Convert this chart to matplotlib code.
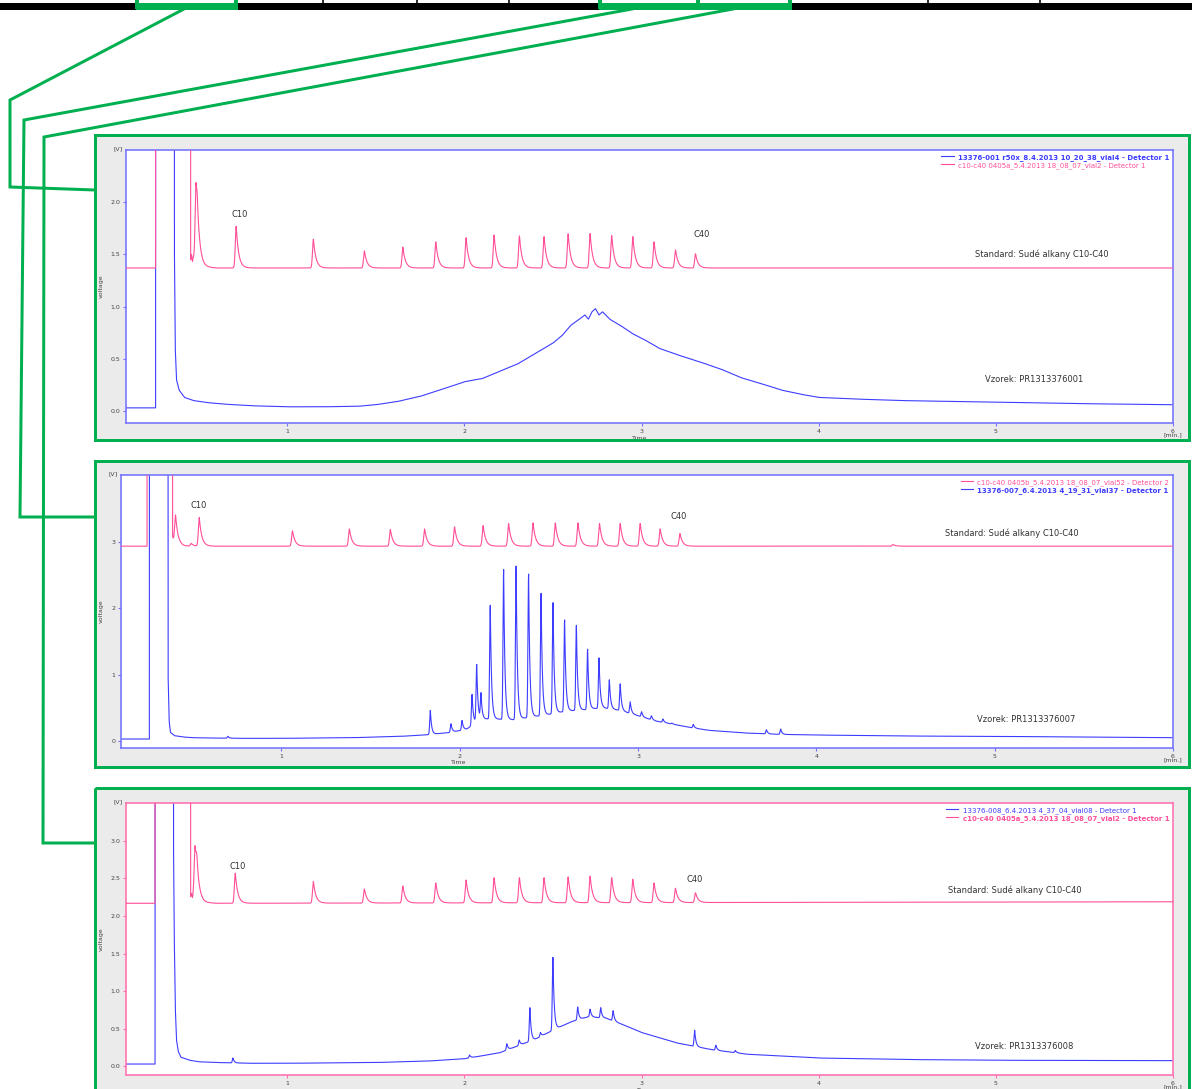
import numpy as np
import matplotlib
matplotlib.use('Agg')
import matplotlib.pyplot as plt
from matplotlib.patches import Rectangle

# ---------------- data ----------------
x_ticks = [1, 2, 3, 4, 5, 6]

# Panel 1 -----------------------------------------------------
p1_legend = ["13376-001 r50x_8.4.2013 10_20_38_vial4 - Detector 1",
             "c10-c40 0405a_5.4.2013 18_08_07_vial2 - Detector 1"]
p1_yticks = [0.0, 0.5, 1.0, 1.5, 2.0]
p1_ylabels = ["0.0", "0.5", "1.0", "1.5", "2.0"]
p1_blue_base_t = [0.0, 0.257, 0.259, 0.360, 0.363, 0.368, 0.375, 0.39, 0.42, 0.47, 0.55, 0.65, 0.8, 1.0, 1.2,
                  1.4, 1.5, 1.62, 1.75, 1.86, 2.0, 2.1, 2.2, 2.3, 2.43, 2.5, 2.55, 2.6, 2.65, 2.68, 2.70,
                  2.72, 2.74, 2.76, 2.78, 2.82, 2.88, 2.95, 3.02, 3.1, 3.2, 3.33, 3.45, 3.56, 3.68, 3.79,
                  3.9, 4.0, 4.2, 4.46, 4.8, 5.0, 5.5, 6.0]
p1_blue_base_v = [0.03, 0.03, 30, 30, 1.6, 0.6, 0.30, 0.2, 0.13, 0.1, 0.08, 0.065, 0.05, 0.04, 0.04,
                  0.045, 0.06, 0.09, 0.14, 0.2, 0.28, 0.31, 0.38, 0.45, 0.58, 0.65, 0.72, 0.82, 0.88, 0.92, 0.88,
                  0.95, 0.98, 0.92, 0.95, 0.88, 0.82, 0.74, 0.68, 0.6, 0.54, 0.47, 0.40, 0.32, 0.26, 0.2,
                  0.16, 0.13, 0.115, 0.1, 0.09, 0.085, 0.07, 0.06]
p1_pink_base_t = [0.0, 0.257, 0.259, 0.452, 0.455, 0.46, 0.465, 0.47, 0.50, 0.53, 0.6, 6.0]
p1_pink_base_v = [1.37, 1.37, 30, 30, 1.45, 1.50, 1.43, 1.47, 1.40, 1.38, 1.37, 1.37]
p1_pink_peak_rt = [0.485, 0.492, 0.712, 1.148, 1.436, 1.653, 1.839, 2.010, 2.168, 2.311, 2.450, 2.586,
                   2.710, 2.832, 2.951, 3.071, 3.192, 3.305]
p1_pink_peak_apex = [2.09, 1.68, 1.77, 1.646, 1.534, 1.57, 1.62, 1.66, 1.686, 1.677, 1.67, 1.697,
                     1.70, 1.68, 1.67, 1.62, 1.544, 1.506]
p1_labels = ["C10", "C40"]
p1_label_t = [0.73, 3.34]
p1_label_v = [1.88, 1.69]
p1_std_text = "Standard: Sudé alkany C10-C40"
p1_std_pos = (4.88, 1.505)
p1_smp_text = "Vzorek: PR1313376001"
p1_smp_pos = (4.94, 0.30)

# Panel 2 -----------------------------------------------------
p2_legend = ["c10-c40 0405b_5.4.2013 18_08_07_vial52 - Detector 2",
             "13376-007_6.4.2013 4_19_31_vial37 - Detector 1"]
p2_yticks = [0, 1, 2, 3]
p2_ylabels = ["0", "1", "2", "3"]
p2_blue_base_t = [0.0, 0.259, 0.261, 0.361, 0.364, 0.37, 0.377, 0.40, 0.45, 0.5, 0.6, 0.8, 1.0, 1.4, 1.667,
                  1.8, 1.95, 2.04, 2.1, 2.15, 2.2, 2.3, 2.4, 2.5, 2.6, 2.7, 2.8, 2.9, 3.0, 3.1, 3.2, 3.3,
                  3.4, 3.6, 3.8, 4.0, 4.5, 5.0, 6.0]
p2_blue_base_v = [0.03, 0.03, 30, 30, 1.0, 0.3, 0.13, 0.08, 0.06, 0.05, 0.045, 0.04, 0.04, 0.05, 0.07,
                  0.09, 0.13, 0.18, 0.30, 0.33, 0.33, 0.32, 0.36, 0.40, 0.45, 0.47, 0.50, 0.46, 0.38, 0.30,
                  0.25, 0.20, 0.16, 0.12, 0.10, 0.09, 0.075, 0.07, 0.05]
p2_blue_peak_rt = [0.70, 1.835, 1.951, 2.013, 2.069, 2.095, 2.119, 2.171, 2.246, 2.316, 2.386, 2.456,
                   2.523, 2.588, 2.654, 2.717, 2.781, 2.839, 2.90, 2.956, 3.02, 3.075, 3.14, 3.19, 3.31,
                   3.72, 3.80]
p2_blue_peak_apex = [0.07, 0.46, 0.26, 0.31, 0.70, 1.14, 0.70, 2.04, 2.58, 2.63, 2.51, 2.22,
                     2.08, 1.82, 1.74, 1.38, 1.25, 0.92, 0.86, 0.59, 0.44, 0.38, 0.33, 0.27, 0.25,
                     0.17, 0.18]
p2_pink_base_t = [0.0, 0.246, 0.248, 0.386, 0.389, 0.395, 0.42, 0.45, 6.0]
p2_pink_base_v = [2.93, 2.93, 30, 30, 3.08, 3.02, 2.95, 2.93, 2.93]
p2_pink_peak_rt = [0.406, 0.494, 0.539, 1.062, 1.381, 1.611, 1.803, 1.971, 2.131, 2.274, 2.411, 2.536,
                   2.663, 2.784, 2.900, 3.012, 3.124, 3.235, 4.43]
p2_pink_peak_apex = [3.40, 2.97, 3.36, 3.16, 3.19, 3.18, 3.19, 3.22, 3.24, 3.27, 3.28, 3.28,
                     3.28, 3.27, 3.27, 3.27, 3.19, 3.12, 2.955]
p2_labels = ["C10", "C40"]
p2_label_t = [0.535, 3.23]
p2_label_v = [3.54, 3.38]
p2_std_text = "Standard: Sudé alkany C10-C40"
p2_std_pos = (4.72, 3.12)
p2_smp_text = "Vzorek: PR1313376007"
p2_smp_pos = (4.90, 0.33)

# Panel 3 -----------------------------------------------------
p3_legend = ["13376-008_6.4.2013 4_37_04_vial08 - Detector 1",
             "c10-c40 0405a_5.4.2013 18_08_07_vial2 - Detector 1"]
p3_yticks = [0.0, 0.5, 1.0, 1.5, 2.0, 2.5, 3.0]
p3_ylabels = ["0.0", "0.5", "1.0", "1.5", "2.0", "2.5", "3.0"]
p3_blue_base_t = [0.0, 0.254, 0.256, 0.355, 0.358, 0.362, 0.368, 0.375, 0.385, 0.40, 0.45, 0.5, 0.6, 0.8,
                  1.0, 1.5, 1.8, 2.0, 2.2, 2.4, 2.5, 2.6, 2.7, 2.8, 2.9, 3.0, 3.2, 3.4, 3.6, 4.0, 4.5,
                  5.0, 6.0]
p3_blue_base_v = [0.03, 0.03, 30, 30, 3.0, 1.8, 0.8, 0.35, 0.2, 0.12, 0.08, 0.06, 0.05, 0.04,
                  0.04, 0.05, 0.07, 0.1, 0.18, 0.36, 0.48, 0.59, 0.66, 0.64, 0.55, 0.45, 0.31, 0.22, 0.16,
                  0.11, 0.09, 0.08, 0.075]
p3_blue_peak_rt = [0.694, 2.03, 2.24, 2.31, 2.37, 2.43, 2.50, 2.64, 2.71, 2.77, 2.84, 3.30, 3.42, 3.53]
p3_blue_peak_apex = [0.11, 0.15, 0.30, 0.35, 0.78, 0.45, 1.45, 0.79, 0.76, 0.78, 0.74, 0.48, 0.28, 0.21]
p3_pink_base_t = [0.0, 0.254, 0.256, 0.452, 0.455, 0.46, 0.465, 0.47, 0.50, 0.53, 0.6, 6.0]
p3_pink_base_v = [2.17, 2.17, 30, 30, 2.26, 2.30, 2.24, 2.28, 2.20, 2.18, 2.17, 2.19]
p3_pink_peak_rt = [0.48, 0.49, 0.707, 1.148, 1.436, 1.653, 1.839, 2.010, 2.168, 2.311, 2.450, 2.586,
                   2.710, 2.832, 2.951, 3.071, 3.192, 3.305]
p3_pink_peak_apex = [2.90, 2.50, 2.57, 2.46, 2.36, 2.40, 2.44, 2.48, 2.51, 2.51, 2.51, 2.52,
                     2.53, 2.51, 2.49, 2.44, 2.37, 2.31]
p3_labels = ["C10", "C40"]
p3_label_t = [0.718, 3.30]
p3_label_v = [2.66, 2.48]
p3_std_text = "Standard: Sudé alkany C10-C40"
p3_std_pos = (4.73, 2.35)
p3_smp_text = "Vzorek: PR1313376008"
p3_smp_pos = (4.88, 0.26)

# ---------------- styling ----------------
W, H, DPI = 1192, 1089, 100
PT = 72.0 / DPI
GREEN = '#00b050'
GRAY = '#ebebeb'
BLUE = '#3d3dff'
PINK = '#ff4f98'
FRAME_BLUE = '#7272ff'
FRAME_PINK = '#ff6fb0'
TXT = '#333333'

fig = plt.figure(figsize=(W / DPI, H / DPI), dpi=DPI)
fig.patch.set_facecolor('white')
bg = fig.add_axes([0, 0, 1, 1], zorder=0)
bg.set_xlim(0, W)
bg.set_ylim(H, 0)
bg.axis('off')

# top strip
bg.add_patch(Rectangle((0, 3), W, 6.5, facecolor='black', edgecolor='none', zorder=1))
for xd in [236, 323, 417, 509, 600, 698, 790, 928, 1040]:
    bg.plot([xd, xd], [-1, 8], color='black', lw=1.6 * PT, zorder=1)
for (xa, xb) in [(137, 236), (600, 698), (698, 790)]:
    bg.add_patch(Rectangle((xa, -6), xb - xa, 12.5, facecolor='none', edgecolor=GREEN,
                           lw=4 * PT, zorder=3))
    bg.add_patch(Rectangle((xa - 1.5, 3), xb - xa + 3, 6.5, facecolor=GREEN, edgecolor='none', zorder=3))
for xg in [27, 61]:
    bg.text(xg, -2.0, 'g', fontsize=7, color='black', ha='center', va='baseline', zorder=2)

# connector lines
conn = [([184, 10, 10, 95], [9, 100, 187, 190]),
        ([632, 24, 20, 95], [9, 120, 517, 517]),
        ([733, 44, 43, 95], [9, 137, 843, 843])]
for xs, ys in conn:
    bg.plot(xs, ys, color=GREEN, lw=3 * PT, solid_joinstyle='miter', zorder=3)

# panel frames
panels_px = [(95, 135, 1189, 440), (95, 461, 1189, 767), (95, 788, 1189, 1100)]
for (x0, y0, x1, y1) in panels_px:
    bg.add_patch(Rectangle((x0, y0), x1 - x0, y1 - y0, facecolor=GRAY, edgecolor='none', zorder=1))
    bg.add_patch(Rectangle((x0, y0), x1 - x0, y1 - y0, facecolor='none', edgecolor=GREEN,
                           lw=3 * PT, zorder=4))

def px_rect(x0, y0, x1, y1):
    return [x0 / W, 1 - y1 / H, (x1 - x0) / W, (y1 - y0) / H]

def peak(t, rt, h, w1, w2):
    d = t - rt
    left = np.exp(-0.5 * (d / w1) ** 2)
    right = np.exp(-np.clip(d, 0, None) / w2)
    return h * np.where(d < 0, left, right)

def trace(t, base_t, base_v, prt, papex, w1, w2):
    y = np.interp(t, base_t, base_v)
    for rt, ap in zip(prt, papex):
        h = max(ap - np.interp(rt, base_t, base_v), 0.0)
        y = y + peak(t, rt, h, w1, w2)
    return y

tgrid = np.linspace(0.0, 6.0, 12001)

specs = [
    dict(rect=(126, 150, 1173, 423), xlim=(0.09, 6.0), ylim=(-0.115, 2.5), yt=p1_yticks, yl=p1_ylabels,
         frame=FRAME_BLUE,
         lines=[('b', p1_blue_base_t, p1_blue_base_v, [], [], p1_legend[0]),
                ('p', p1_pink_base_t, p1_pink_base_v, p1_pink_peak_rt, p1_pink_peak_apex, p1_legend[1])],
         bold=0, labels=(p1_labels, p1_label_t, p1_label_v),
         std=(p1_std_text, p1_std_pos), smp=(p1_smp_text, p1_smp_pos),
         time_x=640, ylab_x=101),
    dict(rect=(121, 475, 1173, 748), xlim=(0.10, 6.0), ylim=(-0.105, 4.0), yt=p2_yticks, yl=p2_ylabels,
         frame=FRAME_BLUE,
         lines=[('p', p2_pink_base_t, p2_pink_base_v, p2_pink_peak_rt, p2_pink_peak_apex, p2_legend[0]),
                ('b', p2_blue_base_t, p2_blue_base_v, p2_blue_peak_rt, p2_blue_peak_apex, p2_legend[1])],
         bold=1, labels=(p2_labels, p2_label_t, p2_label_v),
         std=(p2_std_text, p2_std_pos), smp=(p2_smp_text, p2_smp_pos),
         time_x=459, ylab_x=101),
    dict(rect=(126, 803, 1173, 1075), xlim=(0.09, 6.0), ylim=(-0.116, 3.505), yt=p3_yticks, yl=p3_ylabels,
         frame=FRAME_PINK,
         lines=[('b', p3_blue_base_t, p3_blue_base_v, p3_blue_peak_rt, p3_blue_peak_apex, p3_legend[0]),
                ('p', p3_pink_base_t, p3_pink_base_v, p3_pink_peak_rt, p3_pink_peak_apex, p3_legend[1])],
         bold=1, labels=(p3_labels, p3_label_t, p3_label_v),
         std=(p3_std_text, p3_std_pos), smp=(p3_smp_text, p3_smp_pos),
         time_x=645, ylab_x=101),
]

for sp in specs:
    x0, y0, x1, y1 = sp['rect']
    ax = fig.add_axes(px_rect(x0, y0, x1, y1), zorder=2)
    ax.set_facecolor('white')
    ax.set_xlim(*sp['xlim'])
    ax.set_ylim(*sp['ylim'])
    handles = []
    for kind, bt, bv, prt, pap, lab in sp['lines']:
        if kind == 'b':
            y = trace(tgrid, bt, bv, prt, pap, 0.0035, 0.007)
            col, lw, z = BLUE, 0.8, 2
        else:
            y = trace(tgrid, bt, bv, prt, pap, 0.005, 0.014)
            col, lw, z = PINK, 0.8, 3
        ln, = ax.plot(tgrid, y, color=col, lw=lw, zorder=z, label=lab)
        handles.append(ln)
    for s in ax.spines.values():
        s.set_color(sp['frame'])
        s.set_linewidth(1.6 * PT)
    ax.set_xticks(x_ticks)
    ax.set_xticklabels([str(v) for v in x_ticks])
    ax.set_yticks(sp['yt'])
    ax.set_yticklabels(sp['yl'])
    ax.tick_params(axis='both', direction='out', length=2.5, width=0.8, color=sp['frame'],
                   labelsize=4.5, labelcolor='#444444', pad=1.5)
    leg = ax.legend(handles=handles, loc='upper right', fontsize=5, frameon=False,
                    handlelength=1.8, handletextpad=0.6, labelspacing=0.15, borderaxespad=0.35,
                    borderpad=0.2)
    for txt, h in zip(leg.get_texts(), handles):
        txt.set_color(h.get_color())
    leg.get_texts()[sp['bold']].set_fontweight('bold')
    labs, lt, lv = sp['labels']
    for s, tt, vv in zip(labs, lt, lv):
        ax.text(tt, vv, s, fontsize=6, color=TXT, ha='center', va='center')
    st, (stx, sty) = sp['std']
    ax.text(stx, sty, st, fontsize=6, color=TXT, ha='left', va='center')
    smt, (smx, smy) = sp['smp']
    ax.text(smx, smy, smt, fontsize=6, color=TXT, ha='left', va='center')
    # frame texts
    bg.text(x0 - 3, y0 - 1, '[V]', fontsize=4.5, color='#444444', ha='right', va='center', zorder=2)
    bg.text(x1, y1 + 12, '[min.]', fontsize=4.5, color='#444444', ha='center', va='center', zorder=2)
    bg.text(sp['time_x'], y1 + 15, 'Time', fontsize=4.5, color='#444444', ha='center', va='center', zorder=2)
    bg.text(sp['ylab_x'], (y0 + y1) / 2, 'voltage', fontsize=4.5, color='#444444', rotation=90,
            ha='center', va='center', zorder=2)

fig.savefig('out.png', dpi=DPI, facecolor='white')
